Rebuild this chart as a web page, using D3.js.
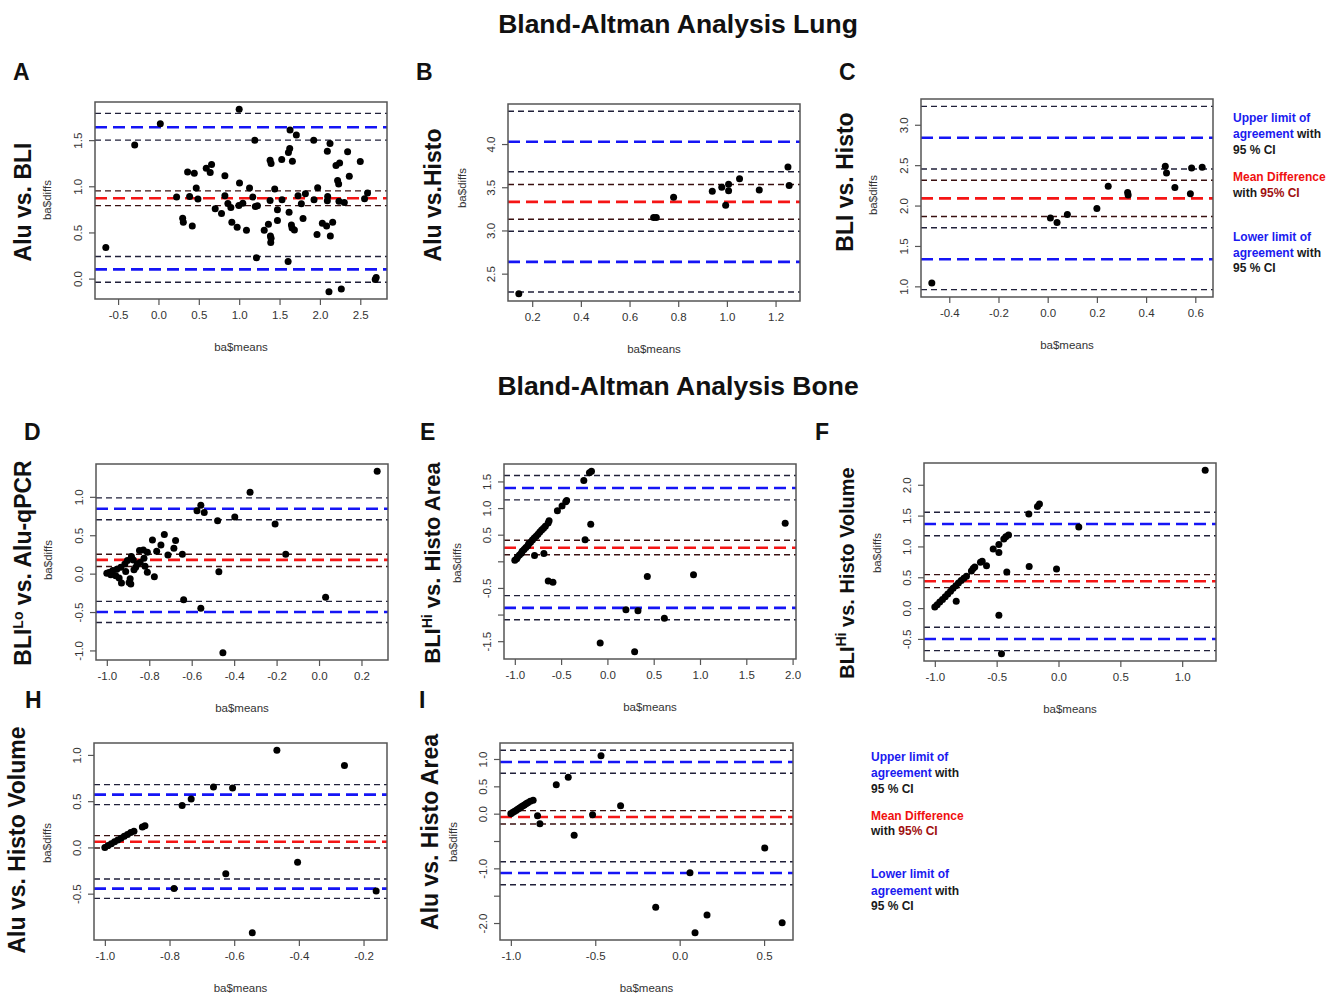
<!DOCTYPE html>
<html>
<head>
<meta charset="utf-8">
<script src="https://d3js.org/d3.v7.min.js"></script>
<style>
  body { margin: 0; background: #fff; }
  text { font-family: "Liberation Sans", Arial, sans-serif; }
</style>
</head>
<body>
<svg id="fig"></svg>
<script>
// ---- data: [ba$means, ba$diffs] ----
// lung A: Alu vs. BLI
var lungAluBli = [[-0.652,0.338],[-0.294,1.446],[0.023,1.678],[0.225,0.883],[0.30,0.654],[0.308,0.61],[0.361,1.155],
  [0.386,0.89],[0.419,0.57],[0.444,1.141],[0.468,0.981],[0.489,0.861],[0.592,1.195],[0.641,1.148],[0.658,1.235],
  [0.703,0.756],[0.781,0.705],[0.823,1.115],[0.823,0.897],[0.86,0.814],[0.897,0.77],[0.909,0.61],[0.975,0.556],
  [0.996,0.792],[1.004,1.035],[1.0,1.834],[1.045,0.817],[1.09,0.523],[1.128,0.981],[1.169,0.883],[1.193,1.50],
  [1.20,0.781],[1.214,0.225],[1.226,0.788],[1.31,0.523],[1.362,0.588],[1.383,1.282],[1.395,1.246],[1.383,0.846],
  [1.387,0.461],[1.395,0.436],[1.391,0.392],[1.44,0.97],[1.474,0.745],[1.474,0.628],[1.531,0.854],[1.527,1.29],
  [1.606,0.185],[1.61,1.366],[1.626,1.409],[1.618,0.719],[1.63,1.609],[1.647,0.581],[1.655,0.548],[1.659,1.271],
  [1.684,0.527],[1.708,1.555],[1.729,0.897],[1.77,0.81],[1.791,0.65],[1.82,0.919],[1.923,1.50],[1.927,0.854],
  [1.964,0.479],[1.972,0.984],[2.03,0.599],[2.083,0.57],[2.092,1.38],[2.096,0.89],[2.092,0.843],[2.125,1.464],
  [2.129,0.461],[2.158,0.61],[2.112,-0.142],[2.199,1.224],[2.219,1.064],[2.232,1.024],[2.244,1.253],[2.236,0.839],
  [2.265,-0.113],[2.302,0.825],[2.343,1.373],[2.364,1.108],[2.5,1.268],[2.553,0.864],[2.59,0.926],[2.685,-0.011],[2.697,0.011]];
// lines: upper LoA CI hi, upper LoA, CI lo, mean CI hi, mean, mean CI lo, lower LoA CI hi, lower LoA, CI lo
var lungAluBliLines = [1.79, 1.64, 1.50, 0.95, 0.87, 0.79, 0.24, 0.10, -0.04];

// lung B: Alu vs. Histo
var lungAluHisto = [[0.145,2.268],[0.699,3.15],[0.71,3.15],[0.781,3.385],[0.94,3.455],[0.979,3.501],[0.995,3.293],
  [1.007,3.536],[1.007,3.459],[1.052,3.598],[1.133,3.467],[1.251,3.733],[1.256,3.521]];
var lungAluHistoLines = [4.379, 4.027, 3.679, 3.532, 3.331, 3.130, 2.991, 2.636, 2.288];

// lung C: BLI vs. Histo
var lungBliHisto = [[-0.471,1.041],[0.011,1.845],[0.038,1.791],[0.080,1.890],[0.200,1.965],[0.246,2.238],[0.325,2.163],
  [0.327,2.130],[0.478,2.487],[0.483,2.404],[0.517,2.222],[0.580,2.147],[0.585,2.466],[0.628,2.474]];
var lungBliHistoLines = [3.228, 2.839, 2.453, 2.313, 2.089, 1.865, 1.725, 1.335, 0.959];

// bone D: BLI-Lo vs. Alu-qPCR
var boneBliAlu = [[0.274,1.333],[-0.325,1.060],[-0.575,0.819],[-0.557,0.892],[-0.541,0.797],[-0.478,0.689],[-0.397,0.736],
  [-0.207,0.646],[-0.157,0.253],[-0.472,0.024],[0.031,-0.309],[-0.638,-0.339],[-0.557,-0.451],[-0.453,-1.030],
  [-0.729,0.508],[-0.785,0.438],[-0.745,0.374],[-0.676,0.430],[-0.684,0.330],[-0.765,0.291],[-0.712,0.244],[-0.644,0.253],
  [-0.828,0.309],[-0.846,0.300],[-0.809,0.279],[-0.825,0.201],[-0.843,0.145],[-0.820,0.097],[-0.884,0.222],[-0.903,0.171],
  [-0.915,0.127],[-0.934,0.084],[-0.953,0.058],[-0.972,0.041],[-0.989,0.015],[-1.0,0.006],[-0.981,-0.015],[-0.958,-0.028],
  [-0.942,-0.058],[-0.931,-0.123],[-0.872,0.050],[-0.911,0.028],[-0.890,-0.067],[-0.887,-0.136],[-0.895,-0.114],
  [-0.875,0.179],[-0.809,0.019],[-0.776,-0.041],[-0.864,0.084],[-0.856,0.127]];
var boneBliAluLines = [0.987, 0.844, 0.702, 0.253, 0.179, 0.093, -0.361, -0.499, -0.637];

// bone E: BLI-Hi vs. Histo Area
var boneBliArea = [[-1.00,0.02],[-0.98,0.05],[-0.97,0.08],[-0.95,0.12],[-0.93,0.15],[-0.92,0.19],[-0.90,0.22],[-0.88,0.26],
  [-0.86,0.29],[-0.85,0.33],[-0.83,0.36],[-0.81,0.40],[-0.79,0.44],[-0.77,0.47],[-0.75,0.51],[-0.73,0.55],[-0.71,0.59],
  [-0.69,0.62],[-0.67,0.66],[-0.64,0.72],[-0.63,0.76],[-0.54,0.95],[-0.49,1.04],[-0.45,1.12],[-0.44,1.14],
  [-0.255,1.519],[-0.194,1.661],[-0.172,1.692],[-0.241,0.403],[-0.180,0.694],[-0.787,0.111],[-0.686,0.148],
  [-0.639,-0.372],[-0.588,-0.391],[-0.078,-1.532],[0.200,-0.912],[0.330,-0.930],[0.294,-1.699],[0.431,-0.285],
  [0.615,-1.067],[0.930,-0.254],[1.920,0.713]];
var boneBliAreaLines = [1.612, 1.376, 1.153, 0.396, 0.254, 0.124, -0.645, -0.875, -1.098];

// bone F: BLI-Hi vs. Histo Volume
var boneBliVol = [[-1.0,0.016],[-0.981,0.054],[-0.960,0.098],[-0.938,0.141],[-0.916,0.185],[-0.895,0.228],[-0.873,0.272],
  [-0.852,0.321],[-0.830,0.364],[-0.809,0.408],[-0.787,0.446],[-0.765,0.484],[-0.744,0.516],[-0.704,0.603],[-0.69,0.641],
  [-0.677,0.668],[-0.631,0.745],[-0.617,0.761],[-0.582,0.685],[-0.827,0.109],[-0.528,0.957],[-0.482,1.033],[-0.482,0.902],
  [-0.442,1.12],[-0.426,1.158],[-0.404,1.185],[-0.418,0.587],[-0.482,-0.114],[-0.461,-0.739],[-0.240,1.527],
  [-0.237,0.674],[-0.170,1.647],[-0.154,1.690],[-0.016,0.636],[0.164,1.315],[1.186,2.234]];
var boneBliVolLines = [1.554, 1.364, 1.174, 0.543, 0.435, 0.332, -0.310, -0.5, -0.690];

// bone H: Alu vs. Histo Volume
var boneAluVol = [[-1.0,0.0],[-0.99,0.02],[-0.98,0.04],[-0.97,0.06],[-0.96,0.08],[-0.95,0.10],[-0.94,0.12],[-0.93,0.14],
  [-0.92,0.16],[-0.91,0.175],[-0.884,0.221],[-0.876,0.235],[-0.761,0.452],[-0.733,0.524],[-0.664,0.654],[-0.605,0.643],
  [-0.468,1.050],[-0.259,0.885],[-0.786,-0.443],[-0.626,-0.284],[-0.404,-0.161],[-0.544,-0.922],[-0.161,-0.471]];
var boneAluVolLines = [0.679, 0.571, 0.463, 0.127, 0.062, -0.006, -0.341, -0.446, -0.551];

// bone I: Alu vs. Histo Area
var boneAluArea = [[-1.0,0.0],[-0.99,0.02],[-0.98,0.04],[-0.97,0.06],[-0.96,0.08],[-0.95,0.10],[-0.94,0.12],[-0.93,0.14],
  [-0.92,0.16],[-0.91,0.18],[-0.90,0.20],[-0.885,0.225],[-0.868,0.244],[-0.842,-0.037],[-0.828,-0.183],[-0.731,0.530],
  [-0.660,0.665],[-0.625,-0.396],[-0.516,-0.018],[-0.466,1.061],[-0.350,0.146],[-0.142,-1.713],[0.061,-1.079],
  [0.091,-2.177],[0.162,-1.854],[0.504,-0.628],[0.607,-1.994]];
var boneAluAreaLines = [1.159, 0.945, 0.738, 0.055, -0.061, -0.189, -0.878, -1.085, -1.299];

// tick values (ticks) and which of them R printed a label for
var aXTicks = [-0.5, 0, 0.5, 1, 1.5, 2, 2.5],  aYTicks = [0, 0.5, 1, 1.5];
var bXTicks = [0.2, 0.4, 0.6, 0.8, 1.0, 1.2],  bYTicks = [2.5, 3.0, 3.5, 4.0];
var cXTicks = [-0.4, -0.2, 0, 0.2, 0.4, 0.6],  cYTicks = [1.0, 1.5, 2.0, 2.5, 3.0];
var dXTicks = [-1.0, -0.8, -0.6, -0.4, -0.2, 0, 0.2], dYTicks = [-1.0, -0.5, 0, 0.5, 1.0];
var eXTicks = [-1.0, -0.5, 0, 0.5, 1.0, 1.5, 2.0], eYTicks = [-1.5, -1.0, -0.5, 0, 0.5, 1.0, 1.5];
var eYLabels = [-1.5, -0.5, 0.5, 1.0, 1.5];
var fXTicks = [-1.0, -0.5, 0, 0.5, 1.0], fYTicks = [-0.5, 0, 0.5, 1.0, 1.5, 2.0];
var hXTicks = [-1.0, -0.8, -0.6, -0.4, -0.2], hYTicks = [-0.5, 0, 0.5, 1.0];
var iXTicks = [-1.0, -0.5, 0, 0.5], iYTicks = [-2.0, -1.5, -1.0, -0.5, 0, 0.5, 1.0];
var iYLabels = [-2.0, -1.0, 0, 0.5, 1.0];

var W = 1338, H = 996;
var svg = d3.select("#fig").attr("width", W).attr("height", H);

// line style per index of the 9 reference lines
var lineCol = ["#20203a", "#1515f5", "#20203a", "#3a1010", "#f51515", "#3a1010", "#20203a", "#1515f5", "#20203a"];
var thick = [false, true, false, false, true, false, false, true, false];

// R prints a plain hyphen for negatives
var fmt = d3.formatLocale({decimal: ".", thousands: ",", grouping: [3], currency: ["", ""], minus: "-"}).format(".1f");

var panels = [
  {pts: lungAluBli, lines: lungAluBliLines, xt: aXTicks, yt: aYTicks, box: [95, 102, 292, 197],
   letter: "A", lp: [13, 80], lab: [["Alu vs. BLI"]], labPos: [23, 202], labSize: 23, diffs: [47, 200]},
  {pts: lungAluHisto, lines: lungAluHistoLines, xt: bXTicks, yt: bYTicks, box: [508, 104, 292, 197],
   letter: "B", lp: [416, 80], lab: [["Alu vs.Histo"]], labPos: [433, 195], labSize: 23, diffs: [462, 188]},
  {pts: lungBliHisto, lines: lungBliHistoLines, xt: cXTicks, yt: cYTicks, box: [921, 99, 292, 198],
   letter: "C", lp: [839, 80], lab: [["BLI vs. Histo"]], labPos: [845, 182], labSize: 23, diffs: [873, 195]},
  {pts: boneBliAlu, lines: boneBliAluLines, xt: dXTicks, yt: dYTicks, box: [96, 464, 292, 196],
   letter: "D", lp: [24, 440], lab: [["BLI"], ["Lo", "sup"], [" vs. Alu-qPCR"]], labPos: [23, 563], labSize: 23, diffs: [48, 560]},
  {pts: boneBliArea, lines: boneBliAreaLines, xt: eXTicks, yt: eYTicks, yl: eYLabels, box: [504, 464, 292, 195],
   letter: "E", lp: [420, 440], lab: [["BLI"], ["Hi", "sup"], [" vs. Histo Area"]], labPos: [432, 563], labSize: 22, diffs: [457, 563]},
  {pts: boneBliVol, lines: boneBliVolLines, xt: fXTicks, yt: fYTicks, box: [924, 463, 292, 198],
   letter: "F", lp: [815, 440], lab: [["BLI"], ["Hi", "sup"], [" vs. Histo Volume"]], labPos: [847, 573], labSize: 20, diffs: [877, 553]},
  {pts: boneAluVol, lines: boneAluVolLines, xt: hXTicks, yt: hYTicks, box: [94, 743, 293, 197],
   letter: "H", lp: [25, 708], lab: [["Alu vs. Histo Volume"]], labPos: [17, 840], labSize: 23, diffs: [47, 843]},
  {pts: boneAluArea, lines: boneAluAreaLines, xt: iXTicks, yt: iYTicks, yl: iYLabels, box: [500, 743, 293, 197],
   letter: "I", lp: [419, 708], lab: [["Alu vs. Histo Area"]], labPos: [430, 832], labSize: 23, diffs: [453, 842]}
];

// R style limits: data range padded 4 % each side
function rlim(vals) {
  var e = d3.extent(vals), p = (e[1] - e[0]) * 0.04;
  return [e[0] - p, e[1] + p];
}

panels.forEach(function (p) {
  var bx = p.box[0], by = p.box[1], bw = p.box[2], bh = p.box[3];
  var x = d3.scaleLinear().domain(rlim(p.pts.map(d => d[0]))).range([bx, bx + bw]);
  var y = d3.scaleLinear().domain(rlim(p.pts.map(d => d[1]).concat(p.lines))).range([by + bh, by]);

  var g = svg.append("g");

  // reference lines
  g.selectAll("line.ref").data(p.lines).join("line")
    .attr("class", "ref")
    .attr("x1", bx).attr("x2", bx + bw)
    .attr("y1", d => y(d)).attr("y2", d => y(d))
    .attr("stroke", (d, i) => lineCol[i])
    .attr("stroke-width", (d, i) => thick[i] ? 2.6 : 1.4)
    .attr("stroke-dasharray", (d, i) => thick[i] ? "12,6" : "6,4");

  // points
  g.selectAll("circle").data(p.pts).join("circle")
    .attr("cx", d => x(d[0])).attr("cy", d => y(d[1]))
    .attr("r", 3.5).attr("fill", "#000");

  // box
  g.append("rect").attr("x", bx).attr("y", by).attr("width", bw).attr("height", bh)
    .attr("fill", "none").attr("stroke", "#555").attr("stroke-width", 1.5);

  // x axis
  var xa = g.append("g").attr("transform", "translate(0," + (by + bh) + ")")
    .call(d3.axisBottom(x).tickValues(p.xt).tickFormat(fmt).tickSize(6).tickPadding(6));
  // y axis
  var labelled = p.yl || p.yt;
  var ya = g.append("g").attr("transform", "translate(" + bx + ",0)")
    .call(d3.axisLeft(y).tickValues(p.yt).tickSize(6)
      .tickFormat(d => labelled.some(v => Math.abs(v - d) < 1e-9) ? fmt(d) : ""));
  ya.selectAll(".tick text")
    .attr("transform", "rotate(-90)")
    .attr("x", 0).attr("y", -13).attr("dy", 0)
    .attr("text-anchor", "middle");
  [xa, ya].forEach(function (a) {
    a.select(".domain").remove();
    a.selectAll(".tick line").attr("stroke", "#555").attr("stroke-width", 1.2);
    a.selectAll(".tick text").attr("fill", "#333").style("font-size", "11.5px")
      .style("font-family", "'Liberation Sans', Arial, sans-serif");
  });

  // axis titles
  g.append("text").attr("x", bx + bw / 2).attr("y", by + bh + 52)
    .attr("text-anchor", "middle").attr("fill", "#333").style("font-size", "11.5px").text("ba$means");
  g.append("text").attr("transform", "translate(" + p.diffs[0] + "," + p.diffs[1] + ") rotate(-90)")
    .attr("text-anchor", "middle").attr("dy", "0.35em")
    .attr("fill", "#333").style("font-size", "11.5px").text("ba$diffs");

  // big panel label
  var t = svg.append("text")
    .attr("transform", "translate(" + p.labPos[0] + "," + p.labPos[1] + ") rotate(-90)")
    .attr("text-anchor", "middle").attr("dy", "0.36em")
    .style("font-size", p.labSize + "px").style("font-weight", "bold").attr("fill", "#111");
  p.lab.forEach(function (s) {
    var ts = t.append("tspan").text(s[0]);
    if (s[1] === "sup") ts.attr("baseline-shift", "super").style("font-size", "14px");
  });

  // panel letter
  svg.append("text").attr("x", p.lp[0]).attr("y", p.lp[1])
    .style("font-size", "23px").style("font-weight", "bold").attr("fill", "#111").text(p.letter);
});

// section titles
[["Bland-Altman Analysis Lung", 33], ["Bland-Altman Analysis Bone", 395]].forEach(function (s) {
  svg.append("text").attr("x", 678).attr("y", s[1]).attr("text-anchor", "middle")
    .style("font-size", "26.5px").style("font-weight", "bold").attr("fill", "#111").text(s[0]);
});

// legends
var legendLines = [
  [["Upper limit of", "#1a1af0"]],
  [["agreement", "#1a1af0"], [" with", "#1a1a1a"]],
  [["95 % CI", "#1a1a1a"]],
  [["Mean Difference", "#f01010"]],
  [["with ", "#1a1a1a"], ["95% CI", "#a01010"]],
  [["Lower limit of", "#1a1af0"]],
  [["agreement", "#1a1af0"], [" with", "#1a1a1a"]],
  [["95 % CI", "#1a1a1a"]]
];
function legend(x0, ys) {
  legendLines.forEach(function (ln, i) {
    var t = svg.append("text").attr("x", x0).attr("y", ys[i])
      .style("font-size", "12px").style("font-weight", "bold");
    ln.forEach(function (s) { t.append("tspan").attr("fill", s[1]).text(s[0]); });
  });
}
legend(1233, [122, 138, 154, 181, 197, 241, 257, 272]);
legend(871, [761, 777, 793, 820, 835, 878, 895, 910]);
</script>
</body>
</html>
